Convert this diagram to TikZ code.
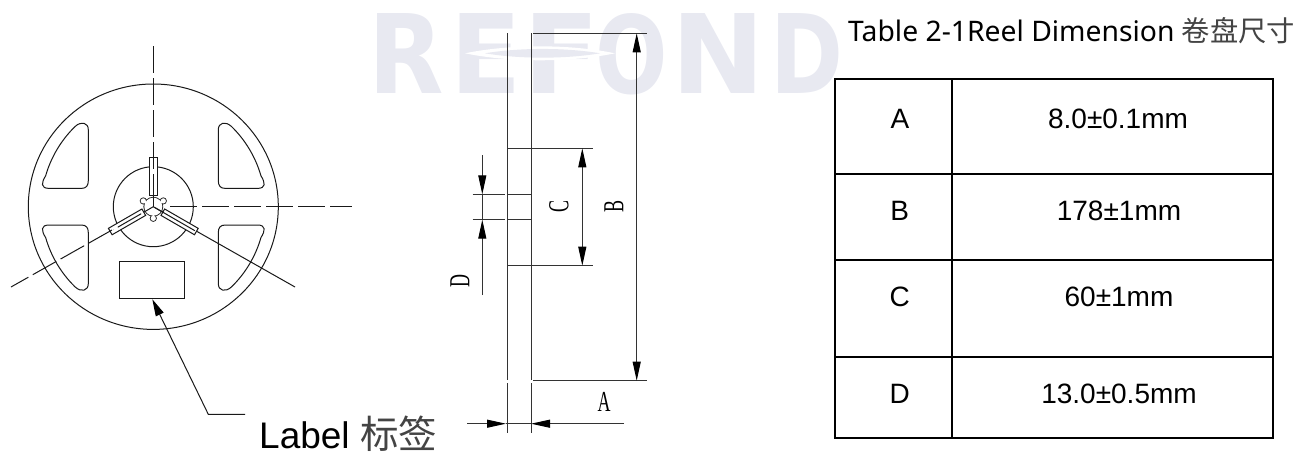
\documentclass[tikz,border=0pt]{standalone}
\usepackage{fontspec}
\usepackage{graphicx}
\usetikzlibrary{arrows.meta}
\setmainfont{Liberation Sans}
\newfontfamily\titlefont{Noto Sans}
\newfontfamily\cjkfont{Noto Sans CJK SC}
\newfontfamily\dimfont{Liberation Serif}
\newfontfamily\wmfont{DejaVu Sans}
\definecolor{wmcol}{HTML}{E8E9F1}
\definecolor{cjkcol}{HTML}{444444}
\tikzset{
  ln/.style={line width=1pt,black!90},
  dimline/.style={line width=1pt,black!80},
  dashln/.style={line width=1pt,black!90,dash pattern=on 27pt off 5pt},
  dimtip/.style={{Triangle[length=19pt,width=8pt,black]}-{Triangle[length=19pt,width=8pt,black]}},
  endtip/.style={-{Triangle[length=19pt,width=8pt,black]}},
  lbltip/.style={{Triangle[length=17pt,width=8.5pt,black]}-},
  dimtext/.style={inner sep=0pt,font=\dimfont\fontsize{29}{29}\selectfont,xscale=.62},
  celltext/.style={inner sep=0pt,font=\fontsize{28}{30}\selectfont},
  tbl/.style={line width=1.7pt,black},
  wm/.style={anchor=base west,inner sep=0pt,text=wmcol,font=\wmfont\bfseries\fontsize{110}{110}\selectfont},
}
\newcommand{\wmletter}[4]{\node[wm] (#1) at (#2,93.3) {\resizebox{#3pt}{80pt}{#4}};}
\newcommand{\reelwindow}[2]{%
  \begin{scope}[shift={(153.3,206.7)},xscale=#1,yscale=#2]
    \draw[ln] (-65,-30) -- (-65,-77) .. controls (-65,-84) and (-72,-86) .. (-78.2,-80.2)
      arc[start angle=225.7,end angle=196,radius=112]
      .. controls (-112,-24) and (-113,-18.3) .. (-104,-18.3)
      -- (-72,-18.3) .. controls (-67,-18.3) and (-65,-21) .. (-65,-26) -- cycle;
  \end{scope}}
\begin{document}
\begin{tikzpicture}[x=1pt,y=-1pt]
\useasboundingbox (0,0) rectangle (1311,453);
% watermark
\wmletter{wr}{368}{75.5}{R}
\wmletter{we}{450.4}{71.2}{E}
\wmletter{wf}{522.8}{76.2}{F}
\wmletter{wo}{595.3}{72.4}{O}
\wmletter{wn}{671.7}{93.5}{N}
\wmletter{wd}{769.9}{73}{D}
\fill[white] (465,53.3) .. controls (510,44) and (570,44) .. (615,53.3) .. controls (570,62.6) and (510,62.6) .. cycle;
\fill[wmcol] (485,53.3) .. controls (520,47.5) and (565,47.5) .. (600,53.3) .. controls (565,59.1) and (520,59.1) .. cycle;

% reel
\coordinate (rc) at (153.3,206.7);
\draw[ln] (rc) ellipse [x radius=125,y radius=122.7];
\reelwindow{1}{1}
\reelwindow{-1}{1}
\reelwindow{1}{-1}
\reelwindow{-1}{-1}
\draw[ln] (rc) circle [radius=40];
% centre lines
\coordinate (vtop) at (153.3,46);
\coordinate (hstart) at (170,206.7);
\coordinate (hend) at (352,206.7);
\coordinate (llend) at (11,287);
\coordinate (lrend) at (295,287);
\draw[ln] (rc) -- (lrend);
% spokes
\begin{scope}[shift={(rc)}]
  \foreach \a in {0,120,240}
    \draw[ln,fill=white,rotate=\a] (-3.7,-49.7) rectangle (3.7,-11);
  % hub lobes: stroke, then white fill over inner half
  \draw[line width=1.8pt,black!85] (0,0) circle [radius=9]
    (-10,-5.8) circle [radius=2.6] (10,-5.8) circle [radius=2.6] (0,11.6) circle [radius=2.6];
  \fill[white] (0,0) circle [radius=9]
    (-10,-5.8) circle [radius=2.6] (10,-5.8) circle [radius=2.6] (0,11.6) circle [radius=2.6];
  \foreach \a in {0,120,240}
    \draw[ln,rotate=\a] (0,0) -- (0,-11);
  \draw[ln] (30:2) -- (30:48);
  \draw[dashln] (150:14) -- (150:46);
\end{scope}
\draw[dashln] (vtop) -- (153.3,196);
\draw[dashln] (hstart) -- (hend);
\draw[dashln] (112,230) -- (llend);

% label rectangle and leader
\node[draw,ln,minimum width=64.7pt,minimum height=37.7pt,inner sep=0pt] (lblrect) at (152.3,279.85) {};
\coordinate (elbow) at (208.3,414.3);
\coordinate (leaderend) at (245,414.3);
\draw[ln,lbltip] (lblrect.south) -- (elbow) -- (leaderend);
\node[anchor=base west,inner sep=0pt,font=\fontsize{37}{40}\selectfont] (lbl) at (259,448) {Label \smash{\cjkfont\fontsize{38.5}{40}\selectfont\color{cjkcol}标签}};

% side view
\coordinate (la) at (507.3,33.3);
\coordinate (lb) at (507.3,380);
\coordinate (lc) at (507.3,383);
\coordinate (ld) at (507.3,433);
\coordinate (ra) at (531,33.3);
\coordinate (rb) at (531,380);
\coordinate (rc2) at (531,383);
\coordinate (rd) at (531,433);
\draw[dimline] (la) -- (lb) (lc) -- (ld) (ra) -- (rb) (rc2) -- (rd);
% B
\coordinate (bt1) at (533,33.3);
\coordinate (bt2) at (647,33.3);
\coordinate (bb1) at (533,380.7);
\coordinate (bb2) at (647,380.7);
\draw[dimline] (bt1) -- (bt2) (bb1) -- (bb2);
\coordinate (barrowt) at (636.7,33.3);
\coordinate (barrowb) at (636.7,380.7);
\draw[dimline,dimtip] (barrowt) -- (barrowb);
\node[rotate=90,dimtext] (dimB) at (614,206) {B};
% C
\coordinate (cl1) at (507.3,148.3);
\coordinate (cr1) at (593,148.3);
\coordinate (cl2) at (507.3,265.7);
\coordinate (cr2) at (593,265.7);
\draw[dimline] (cl1) -- (cr1) (cl2) -- (cr2);
\coordinate (carrowt) at (582.3,148.3);
\coordinate (carrowb) at (582.3,265.7);
\draw[dimline,dimtip] (carrowt) -- (carrowb);
\node[rotate=90,dimtext] (dimC) at (559,206) {C};
% D
\coordinate (d1a) at (472.7,194.3);
\coordinate (d1b) at (505,194.3);
\coordinate (d1c) at (507.3,194.3);
\coordinate (d1d) at (531,194.3);
\coordinate (d2a) at (472.7,219.7);
\coordinate (d2b) at (505,219.7);
\coordinate (d2c) at (507.3,219.7);
\coordinate (d2d) at (531,219.7);
\draw[dimline] (d1a) -- (d1b) (d1c) -- (d1d) (d2a) -- (d2b) (d2c) -- (d2d);
\coordinate (datop) at (482.3,155.3);
\coordinate (dtip1) at (482.3,194.3);
\coordinate (dtip2) at (482.3,219.7);
\coordinate (dabot) at (482.3,295);
\draw[dimline] (dtip1) -- (dtip2);
\draw[dimline,endtip] (datop) -- (dtip1);
\draw[dimline,endtip] (dabot) -- (dtip2);
\node[rotate=90,dimtext] (dimD) at (460,281) {D};
% A
\coordinate (aa) at (467,423.7);
\coordinate (atip1) at (506,423.7);
\coordinate (atip2) at (531,423.7);
\coordinate (ab) at (624,423.7);
\draw[dimline] (atip1) -- (atip2);
\draw[dimline,endtip] (aa) -- (atip1);
\draw[dimline,endtip] (ab) -- (atip2);
\node[dimtext] (dimA) at (604,401.7) {A};

% title
\node[anchor=base west,inner sep=0pt,font=\titlefont\fontsize{28.3}{30}\selectfont] (title) at (848,41.5)
  {Table 2-1Reel Dimension {\cjkfont\color{cjkcol}卷盘尺寸}};

% table
\draw[tbl] (835,79.3) rectangle (1272.7,437.7);
\coordinate (col1) at (952,79.3);
\coordinate (col2) at (952,437.7);
\draw[tbl] (col1) -- (col2);
\foreach \y in {174,259.7,356.7} \draw[tbl] (835,\y) -- (1272.7,\y);
\node[celltext] (ka) at (900,118.5) {A};
\node[celltext] (va) at (1118,118.5) {8.0±0.1mm};
\node[celltext] (kb) at (899.7,211) {B};
\node[celltext] (vb) at (1119,211) {178±1mm};
\node[celltext] (kc) at (899.7,296.7) {C};
\node[celltext] (vc) at (1119,296.7) {60±1mm};
\node[celltext] (kd) at (899.7,394) {D};
\node[celltext] (vd) at (1119,394) {13.0±0.5mm};
\end{tikzpicture}
\end{document}
